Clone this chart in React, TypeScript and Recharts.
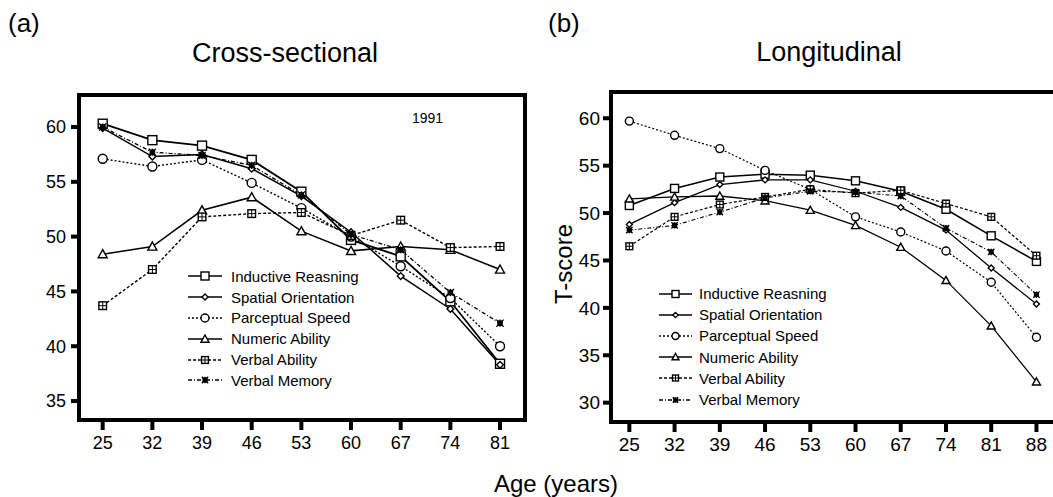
import React from "react";
import { LineChart, Line, XAxis, YAxis, ReferenceArea, Legend } from "recharts";

const FONT = "'Liberation Sans', Arial, Helvetica, sans-serif";

// ages of measurement
const crossAges = [25, 32, 39, 46, 53, 60, 67, 74, 81];
const longAges = [25, 32, 39, 46, 53, 60, 67, 74, 81, 88];

// (a) cross-sectional (1991)
const crossInductive = [60.3, 58.8, 58.3, 57.0, 54.1, 49.7, 48.2, 44.1, 38.4];
const crossSpatial = [59.9, 57.3, 57.5, 56.2, 53.7, 50.4, 46.4, 43.4, 38.3];
const crossPerceptual = [57.1, 56.4, 57.0, 54.9, 52.6, 50.0, 47.3, 44.4, 40.0];
const crossNumeric = [48.4, 49.1, 52.4, 53.6, 50.5, 48.7, 49.1, 48.8, 47.0];
const crossVerbalAbility = [43.7, 47.0, 51.8, 52.1, 52.2, 50.1, 51.5, 49.0, 49.1];
const crossVerbalMemory = [60.0, 57.7, 57.4, 56.5, 53.8, 50.2, 48.8, 44.9, 42.1];

// (b) longitudinal
const longInductive = [50.8, 52.6, 53.8, 54.1, 54.0, 53.4, 52.3, 50.4, 47.6, 44.9];
const longSpatial = [48.8, 51.1, 53.0, 53.5, 53.5, 52.3, 50.6, 48.2, 44.2, 40.4];
const longPerceptual = [59.7, 58.2, 56.8, 54.5, 52.5, 49.6, 48.0, 46.0, 42.7, 36.9];
const longNumeric = [51.5, 51.7, 51.8, 51.3, 50.3, 48.7, 46.4, 42.9, 38.1, 32.2];
const longVerbalAbility = [46.5, 49.6, 50.9, 51.7, 52.5, 52.1, 52.4, 51.0, 49.6, 45.5];
const longVerbalMemory = [48.2, 48.7, 50.1, 51.6, 52.3, 52.2, 51.8, 48.4, 45.9, 41.4];

const crossYTicks = [35, 40, 45, 50, 55, 60];
const longYTicks = [30, 35, 40, 45, 50, 55, 60];

type Shape = "square" | "diamond" | "circle" | "triangle" | "boxplus" | "star";

const SERIES: { key: string; name: string; shape: Shape; dash?: string; w: number }[] = [
  { key: "inductive", name: "Inductive Reasning", shape: "square", w: 1.8 },
  { key: "spatial", name: "Spatial Orientation", shape: "diamond", w: 1.5 },
  { key: "perceptual", name: "Parceptual Speed", shape: "circle", dash: "2 2", w: 1.4 },
  { key: "numeric", name: "Numeric Ability", shape: "triangle", w: 1.5 },
  { key: "verbalAbility", name: "Verbal Ability", shape: "boxplus", dash: "3 2", w: 1.4 },
  { key: "verbalMemory", name: "Verbal Memory", shape: "star", dash: "4 2 1 2", w: 1.3 },
]

function buildRows(ages: number[], cols: number[][]) {
  return ages.map((age, i) => {
    const row: Record<string, number> = { age }
    SERIES.forEach((s, j) => {
      row[s.key] = cols[j][i]
    })
    return row
  })
}

const crossRows = buildRows(crossAges, [
  crossInductive, crossSpatial, crossPerceptual, crossNumeric, crossVerbalAbility, crossVerbalMemory,
])
const longRows = buildRows(longAges, [
  longInductive, longSpatial, longPerceptual, longNumeric, longVerbalAbility, longVerbalMemory,
])

function Marker({ shape, cx, cy, size }: { shape: Shape; cx: number; cy: number; size: number }) {
  const h = size / 2
  const st = { stroke: "#000", strokeWidth: 1.4, fill: "#fff" }
  switch (shape) {
    case "square":
      return <rect x={cx - h} y={cy - h} width={size} height={size} {...st} />
    case "diamond": {
      const d = h * 0.75
      return <polygon points={`${cx},${cy - d} ${cx + d},${cy} ${cx},${cy + d} ${cx - d},${cy}`} {...st} />
    }
    case "circle":
      return <circle cx={cx} cy={cy} r={h} {...st} />
    case "triangle":
      return <polygon points={`${cx},${cy - h} ${cx + h},${cy + h * 0.8} ${cx - h},${cy + h * 0.8}`} {...st} />
    case "boxplus": {
      const b = h * 0.85
      return (
        <g>
          <rect x={cx - b} y={cy - b} width={b * 2} height={b * 2} {...st} />
          <line x1={cx - b} y1={cy} x2={cx + b} y2={cy} stroke="#000" strokeWidth={1} />
          <line x1={cx} y1={cy - b} x2={cx} y2={cy + b} stroke="#000" strokeWidth={1} />
        </g>
      )
    }
    case "star": {
      const b = h * 0.8
      return (
        <g stroke="#000" strokeWidth={1.3}>
          <rect x={cx - b * 0.6} y={cy - b * 0.6} width={b * 1.2} height={b * 1.2} fill="#000" />
          <line x1={cx - b} y1={cy - b} x2={cx + b} y2={cy + b} />
          <line x1={cx - b} y1={cy + b} x2={cx + b} y2={cy - b} />
          <line x1={cx} y1={cy - b} x2={cx} y2={cy + b} />
        </g>
      )
    }
  }
  return null
}

function LegendRows({ payload, lineLen, gap, rowH, markerSize }: any) {
  // keep the series order of the figure, not the payload order
  const names = new Set((payload || []).map((p: any) => p.value))
  const entries = SERIES.filter((s) => names.has(s.name))
  return (
    <div style={{ fontFamily: FONT, fontSize: 15, color: "#000" }}>
      {entries.map((s) => (
        <div key={s.key} style={{ display: "flex", alignItems: "center", height: rowH, whiteSpace: "nowrap" }}>
          <svg width={lineLen} height={14} style={{ display: "block" }}>
            <line x1={0} y1={7} x2={lineLen} y2={7} stroke="#000" strokeWidth={1.3} strokeDasharray={s.dash} />
            <Marker shape={s.shape} cx={lineLen / 2} cy={7} size={markerSize} />
          </svg>
          <span style={{ marginLeft: gap }}>{s.name}</span>
        </div>
      ))}
    </div>
  )
}

type PanelProps = {
  rows: Record<string, number>[]
  ages: number[]
  yTicks: number[]
  xDomain: [number, number]
  yDomain: [number, number]
  width: number
  height: number
  margin: { top: number; right: number; bottom: number; left: number }
  yAxisWidth: number
  tickFont: number
  yTickMargin: number
  markerSize: number
  lineScale: number
  legend: { left: number; top: number; lineLen: number; gap: number; rowH: number }
  yLabel?: string
}

function Panel(p: PanelProps) {
  const tickStyle = { fill: "#000", fontSize: p.tickFont, fontFamily: FONT }
  return (
    <LineChart width={p.width} height={p.height} data={p.rows} margin={p.margin}>
      <XAxis
        dataKey="age"
        type="number"
        domain={p.xDomain}
        ticks={p.ages}
        allowDataOverflow
        axisLine={false}
        tickLine={{ stroke: "#000", strokeWidth: 4 }}
        tickSize={10}
        tickMargin={6}
        tick={tickStyle}
        height={40}
        interval={0}
      />
      <YAxis
        type="number"
        domain={p.yDomain}
        ticks={p.yTicks}
        allowDataOverflow
        axisLine={false}
        tickLine={{ stroke: "#000", strokeWidth: 4 }}
        tickSize={8}
        tickMargin={p.yTickMargin}
        width={p.yAxisWidth}
        tick={tickStyle}
        interval={0}
        label={
          p.yLabel
            ? {
                value: p.yLabel,
                angle: -90,
                position: "center",
                dx: -12,
                dy: 7,
                fontSize: 24,
                fill: "#000",
                fontFamily: FONT,
              }
            : undefined
        }
      />
      <ReferenceArea
        x1={p.xDomain[0]}
        x2={p.xDomain[1]}
        y1={p.yDomain[0]}
        y2={p.yDomain[1]}
        fill="none"
        fillOpacity={0}
        stroke="#000"
        strokeWidth={4}
      />
      {SERIES.map((s) => (
        <Line
          key={s.key}
          dataKey={s.key}
          name={s.name}
          type="linear"
          stroke="#000"
          strokeWidth={s.w * p.lineScale}
          strokeDasharray={s.dash}
          isAnimationActive={false}
          activeDot={false}
          dot={(d: any) => (
            <Marker key={`${s.key}-${d.index}`} shape={s.shape} cx={d.cx} cy={d.cy} size={p.markerSize} />
          )}
        />
      ))}
      <Legend
        layout="vertical"
        align="center"
        verticalAlign="middle"
        wrapperStyle={{ left: p.legend.left, top: p.legend.top, width: "auto", height: "auto" }}
        content={(props: any) => (
          <LegendRows
            payload={props.payload}
            lineLen={p.legend.lineLen}
            gap={p.legend.gap}
            rowH={p.legend.rowH}
            markerSize={p.markerSize - 1}
          />
        )}
      />
    </LineChart>
  )
}

const abs = (left: number, top: number, size: number): React.CSSProperties => ({
  position: "absolute",
  left,
  top,
  fontSize: size,
  lineHeight: 1,
  whiteSpace: "nowrap",
  fontFamily: FONT,
  color: "#000",
})

export default function App() {
  return (
    <div
      style={{
        position: "fixed",
        left: 0,
        top: 0,
        width: 1053,
        height: 497,
        overflow: "hidden",
        background: "#fff",
        fontFamily: FONT,
      }}
    >
      <div style={abs(8, 10, 26)}>(a)</div>
      <div style={{ ...abs(185, 40, 27), width: 200, textAlign: "center" }}>Cross-sectional</div>
      <div style={abs(548, 10, 26)}>(b)</div>
      <div style={{ ...abs(729, 39, 27), width: 200, textAlign: "center" }}>Longitudinal</div>
      <div style={{ ...abs(456, 472, 24), width: 200, textAlign: "center" }}>Age (years)</div>

      <div style={{ position: "absolute", left: 0, top: 0 }}>
        <Panel
          rows={crossRows}
          ages={crossAges}
          yTicks={crossYTicks}
          xDomain={[21.66, 84.52]}
          yDomain={[33.27, 62.92]}
          width={540}
          height={470}
          margin={{ top: 95, right: 15, bottom: 10, left: 0 }}
          yAxisWidth={79}
          tickFont={18}
          yTickMargin={5}
          markerSize={9}
          lineScale={1}
          legend={{ left: 188, top: 266, lineLen: 34, gap: 9, rowH: 20.8 }}
        />
        <div style={abs(412, 111, 14)}>1991</div>
      </div>

      <div style={{ position: "absolute", left: 540, top: 0 }}>
        <Panel
          rows={longRows}
          ages={longAges}
          yTicks={longYTicks}
          xDomain={[22.16, 91.8]}
          yDomain={[27.96, 62.77]}
          width={525}
          height={470}
          margin={{ top: 92, right: 4, bottom: 8, left: 0 }}
          yAxisWidth={71}
          tickFont={19}
          yTickMargin={3}
          markerSize={8}
          lineScale={0.85}
          legend={{ left: 119, top: 283, lineLen: 33, gap: 7, rowH: 21.2 }}
          yLabel="T-score"
        />
      </div>
    </div>
  )
}
